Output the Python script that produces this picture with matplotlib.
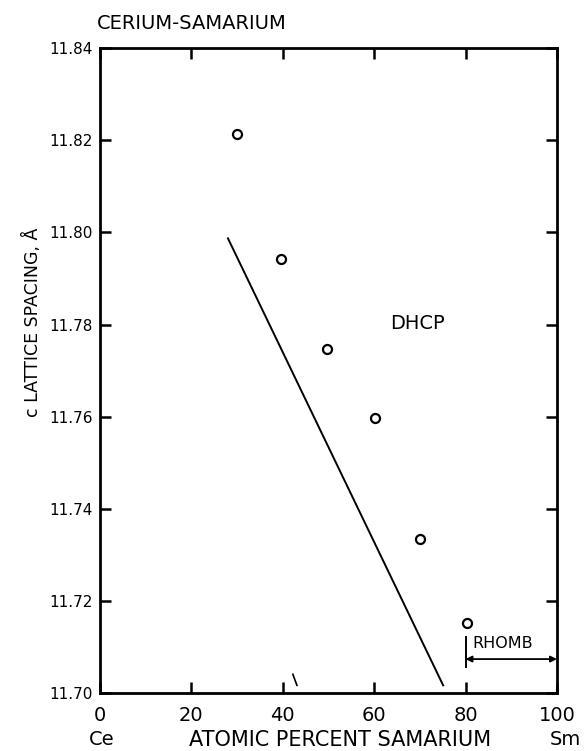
import numpy as np
import matplotlib.pyplot as plt

# composition (at.% Sm) and c lattice spacing (Angstrom) of the DHCP phase
sm_pct = [30, 39.6, 49.7, 60.2, 70.0, 80.3]
c_spacing = [11.8213, 11.7943, 11.7746, 11.7598, 11.7335, 11.7152]

# phase boundary line
bound_x = [28.0, 75.1]
bound_y = [11.7987, 11.7017]

# stray mark near the 40% tick
mark_x = [42.2, 43.1]
mark_y = [11.7041, 11.7017]

# rhombohedral range
rhomb_x = [80, 100]
rhomb_y = 11.7074

xticks = [0, 20, 40, 60, 80, 100]
yticks = [11.70, 11.72, 11.74, 11.76, 11.78, 11.80, 11.82, 11.84]

plt.rcParams['font.family'] = ['DejaVu Sans']

fig = plt.figure(figsize=(5.85, 7.51), dpi=100)
ax = fig.add_axes([0.171, 0.077, 0.781, 0.859])

ax.plot(bound_x, bound_y, color='black', lw=1.4)
ax.plot(mark_x, mark_y, color='black', lw=1.2)
ax.plot(sm_pct, c_spacing, 'o', mfc='white', mec='black', ms=6.5, mew=1.6)

# RHOMB arrow and bar
ax.plot([80, 80], [11.7057, 11.7122], color='black', lw=1.4)
ax.annotate('', xy=(rhomb_x[0], rhomb_y), xytext=(rhomb_x[1], rhomb_y),
            arrowprops=dict(arrowstyle='<|-|>', color='black', lw=1.3,
                            mutation_scale=9, shrinkA=0, shrinkB=0))
ax.text(81.4, 11.7107, 'RHOMB', fontsize=11.5, va='center', ha='left')
ax.text(69.4, 11.7802, 'DHCP', fontsize=14, va='center', ha='center')

ax.set_xlim(0, 100)
ax.set_ylim(11.70, 11.84)
ax.set_xticks(xticks)
ax.set_yticks(yticks)
ax.set_xticklabels([str(t) for t in xticks], fontsize=14)
ax.set_yticklabels(['%.2f' % t for t in yticks], fontsize=11)
ax.tick_params(axis='x', direction='in', length=8, width=1.8, pad=9,
               top=True)
ax.tick_params(axis='y', direction='in', length=8, width=1.8, pad=5,
               right=True)
for s in ax.spines.values():
    s.set_linewidth(2.0)

fig.text(0.166, 0.969, 'CERIUM-SAMARIUM', fontsize=14, va='center',
         ha='left')
fig.text(0.055, 0.571, 'c LATTICE SPACING, Å', fontsize=12.5,
         rotation=90, va='center', ha='center')
fig.text(0.581, 0.015, 'ATOMIC PERCENT SAMARIUM', fontsize=15,
         va='center', ha='center')
fig.text(0.173, 0.015, 'Ce', fontsize=14, va='center', ha='center')
fig.text(0.966, 0.015, 'Sm', fontsize=14, va='center', ha='center')

fig.savefig('out.png', dpi=100)
